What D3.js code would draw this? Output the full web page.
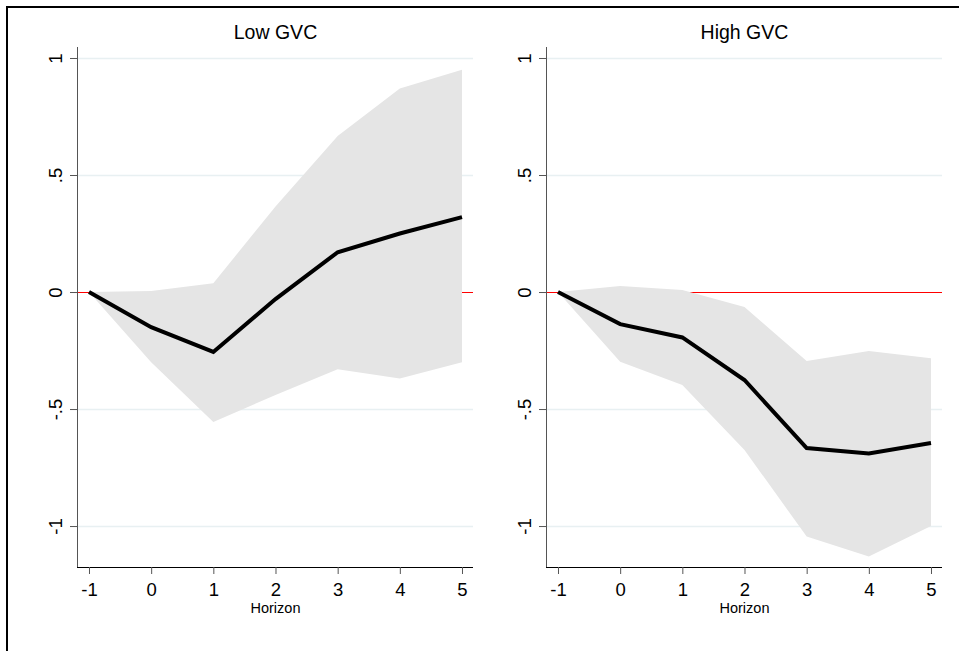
<!DOCTYPE html>
<html>
<head>
<meta charset="utf-8">
<script src="https://cdn.jsdelivr.net/npm/d3@7.9.0/dist/d3.min.js"></script>
<style>
  body { margin: 0; background: #fff; }
  svg { display: block; }
  svg text { font-family: Arial, "Liberation Sans", Helvetica, sans-serif; fill: #000; }
</style>
</head>
<body>
<svg id="chart" width="959" height="651"></svg>
<script>
const horizons = [-1, 0, 1, 2, 3, 4, 5];
const yTicks = [-1, -0.5, 0, 0.5, 1];
const yTickLabels = ['-1', '-.5', '0', '.5', '1'];

const lowMean  = [0, -0.15, -0.256, -0.03, 0.17, 0.25, 0.32];
const lowUpper = [0, 0.004, 0.038, 0.365, 0.667, 0.87, 0.95];
const lowLower = [0, -0.30, -0.555, -0.44, -0.33, -0.37, -0.30];

const highMean  = [0, -0.137, -0.194, -0.376, -0.667, -0.69, -0.645];
const highUpper = [0, 0.026, 0.009, -0.064, -0.295, -0.252, -0.283];
const highLower = [0, -0.298, -0.397, -0.675, -1.045, -1.13, -1.0];

const panels = [
  { title: 'Low GVC', left: 77, mean: lowMean, upper: lowUpper, lower: lowLower },
  { title: 'High GVC', left: 546, mean: highMean, upper: highUpper, lower: highLower }
];

const svg = d3.select('#chart');

// outer frame
svg.append('rect')
  .attr('x', 7).attr('y', 7)
  .attr('width', 1000).attr('height', 1000)
  .attr('fill', 'none').attr('stroke', '#000').attr('stroke-width', 2);

const plotW = 396;
const plotTop = 47, plotBottom = 567;

const yScale = d3.scaleLinear().domain([-1.175, 1.047]).range([plotBottom, plotTop]);

panels.forEach(p => {
  const g = svg.append('g').attr('transform', `translate(${p.left},0)`);
  const x = d3.scaleLinear().domain([-1.193, 5.177]).range([0, plotW]);

  // gridlines
  g.append('g').selectAll('line')
    .data(yTicks.filter(d => d !== 0))
    .join('line')
    .attr('x1', 0).attr('x2', plotW)
    .attr('y1', d => Math.round(yScale(d)) + 0.5).attr('y2', d => Math.round(yScale(d)) + 0.5)
    .attr('stroke', '#e8f0f2').attr('stroke-width', 1.5);

  // zero reference line
  g.append('line')
    .attr('x1', 0).attr('x2', plotW)
    .attr('y1', Math.round(yScale(0)) + 0.5).attr('y2', Math.round(yScale(0)) + 0.5)
    .attr('stroke', '#ff0000').attr('stroke-width', 1)
    .attr('shape-rendering', 'crispEdges');

  const rows = horizons.map((h, i) => ({ h, m: p.mean[i], lo: p.lower[i], hi: p.upper[i] }));

  // confidence band
  g.append('path')
    .datum(rows)
    .attr('fill', '#e5e5e5')
    .attr('d', d3.area().x(d => x(d.h)).y0(d => yScale(d.lo)).y1(d => yScale(d.hi)));

  // point estimate
  g.append('path')
    .datum(rows)
    .attr('fill', 'none')
    .attr('stroke', '#000')
    .attr('stroke-width', 4)
    .attr('stroke-linejoin', 'miter')
    .attr('d', d3.line().x(d => x(d.h)).y(d => yScale(d.m)));

  // y axis
  const yAxis = d3.axisLeft(yScale).tickValues(yTicks).tickSize(7).tickPadding(10)
    .tickFormat((d, i) => yTickLabels[i]);
  const ya = g.append('g').call(yAxis).attr('font-family', null).attr('font-size', null);
  ya.select('.domain').attr('stroke', '#555').attr('d', `M0.5,${plotTop}V${plotBottom}`);
  ya.selectAll('.tick line').attr('stroke', '#555');
  ya.selectAll('.tick text')
    .style('font-size', '18.5px')
    .attr('text-anchor', 'middle')
    .attr('x', null).attr('dy', null)
    .attr('transform', 'translate(-22,0) rotate(-90)')
    .attr('dominant-baseline', 'central');

  // x axis
  const xAxis = d3.axisBottom(x).tickValues(horizons).tickSize(7).tickPadding(9)
    .tickFormat(d => String(d));
  const xa = g.append('g').attr('transform', `translate(0,${plotBottom})`).call(xAxis)
    .attr('font-family', null).attr('font-size', null);
  xa.select('.domain').attr('stroke', '#000').attr('d', `M0,0.5H${plotW}`);
  xa.selectAll('.tick line').attr('stroke', '#555');
  xa.selectAll('.tick text').style('font-size', '18.5px');

  g.append('text')
    .attr('x', x(2)).attr('y', 613)
    .attr('text-anchor', 'middle')
    .style('font-size', '14.5px')
    .text('Horizon');

  g.append('text')
    .attr('x', x(2)).attr('y', 39)
    .attr('text-anchor', 'middle')
    .style('font-size', '19.5px')
    .text(p.title);
});
</script>
</body>
</html>
